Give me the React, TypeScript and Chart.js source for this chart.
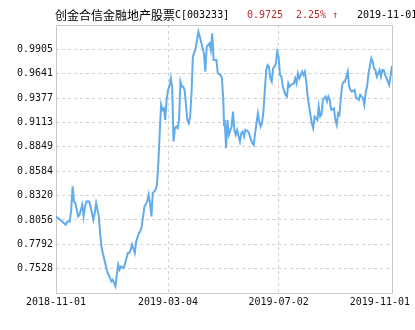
import React, { useEffect, useRef } from 'react';
import { Chart, registerables } from 'chart.js';

Chart.register(...registerables);

// ---- Data ----
const fundName = '创金合信金融地产股票';
const fundCode = 'C[003233]';
const latestNav = '0.9725';
const latestChange = '2.25% ↑';
const latestDate = '2019-11-01';

const xTickDays = [0, 81, 161, 243];
const xTickLabels = ['2018-11-01', '2019-03-04', '2019-07-02', '2019-11-01'];
const yTickLabels = ['0.7528', '0.7792', '0.8056', '0.8320', '0.8584', '0.8849', '0.9113', '0.9377', '0.9641', '0.9905'];
const yMin = 0.7264;
const yMax = 1.0169;
const dayMax = 243;

// trading-day offsets from 2018-11-01
const tradingDays = [
  0, 3, 7, 8, 10, 11, 12, 13, 14, 16, 17, 19, 20, 21, 22, 24, 25, 27, 28, 29,
  31, 32, 33, 35, 37, 39, 40, 41, 43, 44, 45, 46, 47, 49, 50, 52, 53, 54, 55, 57,
  58, 60, 61, 62, 63, 64, 66, 67, 68, 69, 70, 72, 73, 74, 75, 76, 77, 78, 79, 80,
  81, 82, 83, 84, 85, 86, 87, 88, 89, 90, 91, 92, 93, 95, 96, 97, 98, 99, 101, 102,
  103, 104, 107, 108, 109, 111, 112, 113, 114, 116, 117, 119, 120, 121, 121.5, 122, 123, 124, 125, 127,
  128, 129, 130, 131, 133, 134, 135, 136, 137, 139, 140, 141, 142, 143, 144, 146, 147, 148, 149, 150,
  152, 153, 154, 155, 156, 157, 158, 159, 160, 161, 162, 163, 164, 166, 167, 168, 169, 170, 172, 173,
  174, 175, 176, 178, 179, 180, 181, 182, 184, 185, 186, 187, 189, 190, 191, 192, 193, 195, 196, 197,
  198, 199, 201, 202, 203, 204, 205, 206, 207, 208, 209, 211, 212, 213, 214, 216, 217, 218, 219, 220,
  222, 223, 224, 225, 226, 228, 229, 230, 231, 232, 234, 235, 236, 237, 238, 240, 241, 243,
];

const navValues = [
  0.8094, 0.8058, 0.8004, 0.8040, 0.8040, 0.8166, 0.8419, 0.8257, 0.8239, 0.8094,
  0.8112, 0.8221, 0.8094, 0.8202, 0.8257, 0.8257, 0.8202, 0.8058, 0.8130, 0.8239,
  0.8094, 0.7896, 0.7752, 0.7625, 0.7499, 0.7427, 0.7391, 0.7409, 0.7337, 0.7463,
  0.7571, 0.7517, 0.7553, 0.7535, 0.7589, 0.7698, 0.7698, 0.7734, 0.7788, 0.7698,
  0.7824, 0.7914, 0.7932, 0.7986, 0.8094, 0.8202, 0.8257, 0.8329, 0.8239, 0.8094,
  0.8347, 0.8383, 0.8437, 0.8671, 0.8996, 0.9303, 0.9248, 0.9266, 0.9140, 0.9357,
  0.9465, 0.9501, 0.9591, 0.9501, 0.8906, 0.9050, 0.9068, 0.9050, 0.9140, 0.9555,
  0.9501, 0.9501, 0.9465, 0.9140, 0.9104, 0.9176, 0.9429, 0.9825, 0.9916, 1.0006,
  1.0096, 1.0042, 0.9862, 0.9663, 0.9934, 0.9970, 0.9898, 1.0078, 0.9789, 0.9789,
  0.9645, 0.9627, 0.9591, 0.9357, 0.9086, 0.9140, 0.8834, 0.9140, 0.8978, 0.9068,
  0.9230, 0.9032, 0.8978, 0.9032, 0.8906, 0.8996, 0.9014, 0.8960, 0.9032, 0.9014,
  0.8978, 0.8924, 0.8888, 0.8870, 0.8996, 0.9212, 0.9122, 0.9068, 0.9104, 0.9230,
  0.9681, 0.9735, 0.9717, 0.9591, 0.9555, 0.9699, 0.9717, 0.9753, 0.9880, 0.9825,
  0.9627, 0.9609, 0.9501, 0.9411, 0.9393, 0.9537, 0.9501, 0.9519, 0.9537, 0.9591,
  0.9537, 0.9645, 0.9591, 0.9663, 0.9627, 0.9663, 0.9555, 0.9393, 0.9194, 0.9104,
  0.9050, 0.9176, 0.9140, 0.9284, 0.9176, 0.9194, 0.9357, 0.9393, 0.9339, 0.9393,
  0.9357, 0.9248, 0.9266, 0.9140, 0.9086, 0.9212, 0.9194, 0.9375, 0.9519, 0.9555,
  0.9555, 0.9663, 0.9501, 0.9465, 0.9447, 0.9465, 0.9375, 0.9375, 0.9357, 0.9411,
  0.9375, 0.9303, 0.9447, 0.9501, 0.9645, 0.9808, 0.9771, 0.9699, 0.9681, 0.9609,
  0.9681, 0.9609, 0.9681, 0.9681, 0.9627, 0.9555, 0.9519, 0.9725,
];

const MONO = '"DejaVu Sans Mono", "Liberation Mono", monospace';
const CJK = '"Noto Sans CJK SC", sans-serif';

const overlayPlugin = {
  id: 'overlay',
  beforeDatasetsDraw(chart: any) {
    const { ctx, chartArea: a } = chart;
    ctx.save();
    ctx.strokeStyle = '#c8c8c8';
    ctx.lineWidth = 1;
    ctx.setLineDash([]);
    ctx.strokeRect(Math.round(a.left) + 0.5, Math.round(a.top) + 0.5, Math.round(a.right - a.left), Math.round(a.bottom - a.top));
    ctx.restore();
  },
  afterDraw(chart: any) {
    const { ctx, chartArea: a, width } = chart;
    const xs = chart.scales.x;
    ctx.save();
    ctx.textBaseline = 'middle';
    ctx.textAlign = 'left';
    // title line
    ctx.fillStyle = '#000';
    ctx.font = '12px ' + CJK;
    ctx.fillText(fundName, 55, 15);
    const w = ctx.measureText(fundName).width;
    ctx.font = '10px ' + MONO;
    ctx.fillText(fundCode, 55 + w, 15);
    ctx.fillStyle = '#c0282d';
    ctx.fillText(latestNav, 247, 15);
    ctx.fillText(latestChange, 296, 15);
    ctx.fillStyle = '#000';
    ctx.fillText(latestDate, 357, 15);
    // x tick labels
    ctx.font = '10px ' + MONO;
    ctx.textAlign = 'center';
    ctx.fillStyle = '#111';
    xTickDays.forEach((d, i) => {
      const label = xTickLabels[i];
      const lw = ctx.measureText(label).width;
      let cx = xs.getPixelForValue(d);
      cx = Math.max(lw / 2 + 2, Math.min(width - 5 - lw / 2, cx));
      ctx.fillText(label, cx, a.bottom + 9);
    });
    ctx.restore();
  },
};

export default function App() {
  const ref = useRef<HTMLCanvasElement | null>(null);
  useEffect(() => {
    document.body.style.margin = '0';
    const canvas = ref.current;
    if (!canvas) return;
    const points = navValues.map((v, i) => ({ x: tradingDays[i], y: v }));
    const yTickValues = yTickLabels.map((s) => parseFloat(s));
    const chart = new Chart(canvas, {
      type: 'line',
      data: {
        datasets: [
          {
            data: points,
            borderColor: '#62aceb',
            borderWidth: 2,
            pointRadius: 0,
            tension: 0,
            fill: false,
          },
        ],
      },
      options: {
        responsive: false,
        animation: false,
        events: [],
        layout: { padding: { top: 25, right: 23, left: 0, bottom: 0 } },
        plugins: { legend: { display: false }, tooltip: { enabled: false }, title: { display: false } },
        scales: {
          x: {
            type: 'linear',
            min: 0,
            max: dayMax,
            afterBuildTicks: (s: any) => {
              s.ticks = xTickDays.map((v) => ({ value: v }));
            },
            afterFit: (s: any) => {
              s.height = 37;
            },
            ticks: { display: false },
            grid: { color: '#cfcfcf', drawTicks: false, lineWidth: 1 },
            border: { display: false, dash: [3, 3] },
          },
          y: {
            type: 'linear',
            min: yMin,
            max: yMax,
            afterBuildTicks: (s: any) => {
              s.ticks = yTickValues.map((v) => ({ value: v }));
            },
            afterFit: (s: any) => {
              s.width = 56;
            },
            ticks: {
              padding: 3,
              color: '#111',
              font: { family: MONO, size: 10 },
              callback: (_v: any, i: number) => yTickLabels[i],
            },
            grid: { color: '#cfcfcf', drawTicks: false, lineWidth: 1 },
            border: { display: false, dash: [3, 3] },
          },
        },
      },
      plugins: [overlayPlugin],
    });
    return () => chart.destroy();
  }, []);
  return <canvas ref={ref} width={415} height={330} style={{ display: 'block' }} />;
}
